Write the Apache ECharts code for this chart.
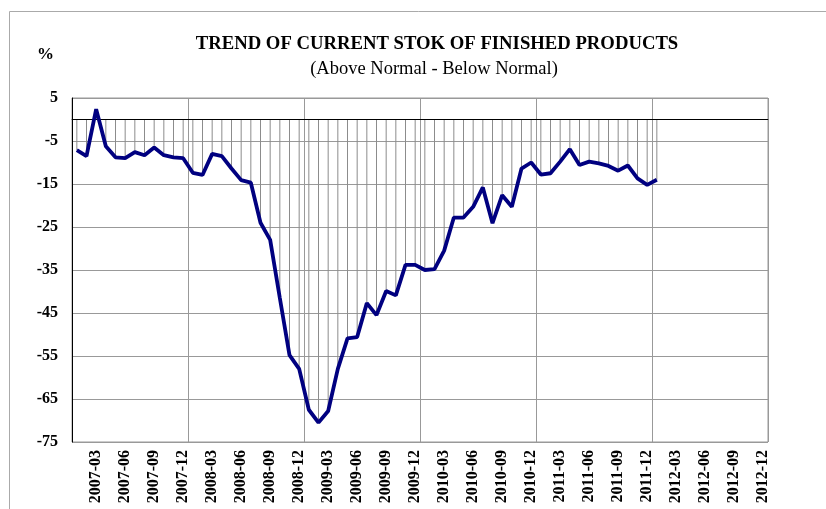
<!DOCTYPE html>
<html>
<head>
<meta charset="utf-8">
<script src="https://cdn.jsdelivr.net/npm/echarts@6/dist/echarts.min.js"></script>
<style>
  html, body { margin: 0; padding: 0; background: #fff; }
  #main { width: 826px; height: 509px; }
</style>
</head>
<body>
<div id="main"></div>
<script>
// axis: one category per month, 2007-01 .. 2012-12
let years = ['2007', '2008', '2009', '2010', '2011', '2012'];
let months = ['01', '02', '03', '04', '05', '06', '07', '08', '09', '10', '11', '12'];
let categories = [];
years.forEach(function (y) {
  months.forEach(function (m) { categories.push(y + '-' + m); });
});

// stock of finished products, % (above normal - below normal), 2007-01 .. 2012-01
let stock = [
  -7.1, -8.5, 2.4, -6.2, -8.8, -9.0, -7.6, -8.3, -6.5, -8.3, -8.8, -9.0,
  -12.4, -12.9, -8.0, -8.5, -11.4, -14.1, -14.7, -24.0, -28.0, -41.5, -54.8, -58.0,
  -67.5, -70.5, -67.8, -58.0, -50.9, -50.6, -42.7, -45.5, -39.9, -40.9, -33.8, -33.8,
  -35.0, -34.8, -30.5, -22.8, -22.8, -20.3, -15.8, -24.1, -17.6, -20.3, -11.4, -10.0,
  -12.8, -12.5, -9.8, -6.9, -10.6, -9.8, -10.2, -10.8, -11.9, -10.7, -13.7, -15.2,
  -14.0
];

let serif = '"Liberation Serif", "Times New Roman", serif';
let myChart = echarts.init(document.getElementById('main'));

let option = {
  animation: false,
  backgroundColor: '#fff',
  graphic: [
    { // outer chart frame
      type: 'rect',
      shape: { x: 9.5, y: 11.5, width: 900, height: 600 },
      style: { fill: 'none', stroke: '#aaa', lineWidth: 1 },
      silent: true
    },
    {
      type: 'text',
      left: 37, top: 46,
      style: { text: '%', font: 'bold 17px ' + serif, fill: '#000' }
    }
  ],
  title: [
    {
      text: 'TREND OF CURRENT STOK OF FINISHED PRODUCTS',
      left: 432, top: 30, textAlign: 'center',
      textStyle: { fontFamily: serif, fontWeight: 'bold', fontSize: 18.7, color: '#000' }
    },
    {
      text: '(Above Normal - Below Normal)',
      left: 429, top: 55, textAlign: 'center',
      textStyle: { fontFamily: serif, fontWeight: 'normal', fontSize: 18.5, color: '#000' }
    }
  ],
  grid: {
    left: 72, right: 58, top: 98, bottom: 67,
    show: true, borderColor: '#999', borderWidth: 1
  },
  xAxis: [
    {
      type: 'category',
      data: categories,
      boundaryGap: true,
      axisLine: { lineStyle: { color: '#444', width: 1 } },
      axisTick: { show: false },
      splitLine: { show: false },
      axisLabel: {
        interval: function (i) { return i % 3 === 2; },
        rotate: 90,
        margin: 8,
        fontFamily: serif,
        fontWeight: 'bold',
        fontSize: 16,
        color: '#000'
      }
    },
    { // year separators
      type: 'value',
      min: 0, max: 72, interval: 12,
      position: 'bottom',
      axisLine: { show: false },
      axisTick: { show: false },
      axisLabel: { show: false },
      splitLine: { show: true, lineStyle: { color: '#999', width: 1 } }
    }
  ],
  yAxis: {
    type: 'value',
    min: -75, max: 5, interval: 10,
    axisLine: { show: true, lineStyle: { color: '#000', width: 1 } },
    axisTick: { show: false },
    splitLine: { show: true, lineStyle: { color: '#999', width: 1 } },
    axisLabel: {
      margin: 14,
      fontFamily: serif,
      fontWeight: 'bold',
      fontSize: 16,
      color: '#000'
    }
  },
  series: [
    { // drop lines from zero
      type: 'bar',
      data: stock,
      barWidth: 1,
      itemStyle: { color: '#8c8c8c' },
      z: 1,
      silent: true
    },
    {
      type: 'line',
      data: stock,
      showSymbol: false,
      lineStyle: { color: '#000080', width: 3.8 },
      z: 5,
      markLine: {
        silent: true,
        symbol: 'none',
        label: { show: false },
        lineStyle: { color: '#000', width: 1, type: 'solid' },
        data: [{ yAxis: 0 }]
      }
    }
  ]
};

myChart.setOption(option);
</script>
</body>
</html>
